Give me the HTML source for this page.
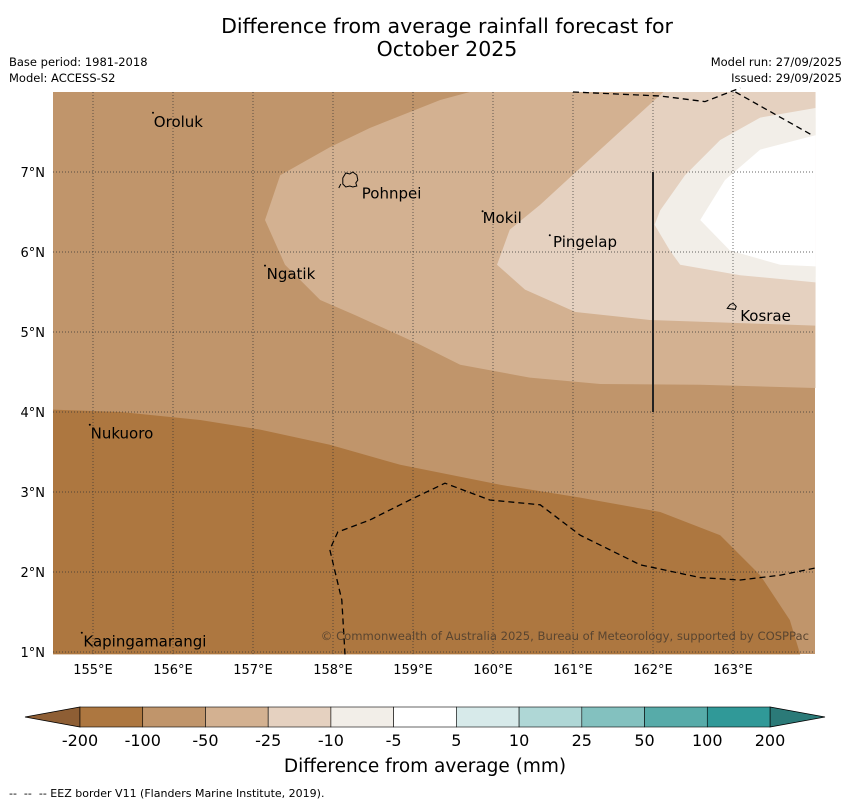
<!DOCTYPE html>
<html><head><meta charset="utf-8"><style>
body{margin:0;background:#fff;width:850px;height:804px;overflow:hidden;font-family:"DejaVu Sans","Liberation Sans",sans-serif}
svg text{font-family:"DejaVu Sans","Liberation Sans",sans-serif}
</style></head><body>
<svg width="850" height="804" xmlns="http://www.w3.org/2000/svg">
<text x="447" y="33" text-anchor="middle" font-size="20.5">Difference from average rainfall forecast for</text>
<text x="447" y="56" text-anchor="middle" font-size="20.5">October 2025</text>
<text x="9" y="66" font-size="11.5">Base period: 1981-2018</text>
<text x="9" y="82" font-size="11.5">Model: ACCESS-S2</text>
<text x="842" y="66" font-size="11.5" text-anchor="end">Model run: 27/09/2025</text>
<text x="842" y="82" font-size="11.5" text-anchor="end">Issued: 29/09/2025</text>
<g id="map"></g>
<g id="cbar"></g>
<text x="425" y="772" text-anchor="middle" font-size="18.5">Difference from average (mm)</text>
<text x="9" y="797" font-size="11" xml:space="preserve">--  --  -- EEZ border V11 (Flanders Marine Institute, 2019).</text>
</svg>
<script>
const NS="http://www.w3.org/2000/svg";
const levels=["-200","-100","-50","-25","-10","-5","5","10","25","50","100","200"];
const colors=["#ad7740","#c0956b","#d3b191","#e5d1c0","#f2eee8","#ffffff","#d7eaea","#afd7d6","#83c1bf","#57aba9","#309998"];
const lonTicks=[155,156,157,158,159,160,161,162,163];
const latTicks=[1,2,3,4,5,6,7];
const regionM200=[[154.5,4.03],[155.34,4.0],[156.34,3.9],[157.09,3.78],[157.96,3.59],[158.84,3.34],[160.09,3.09],[161.09,2.93],[162.09,2.75],[162.84,2.46],[163.34,1.96],[163.71,1.4],[163.84,0.97],[154.5,0.97]];
const regionM50=[[159.71,8.0],[159.34,7.9],[158.46,7.55],[157.96,7.31],[157.34,6.96],[157.15,6.4],[157.4,5.84],[157.84,5.4],[158.28,5.21],[159.09,4.84],[159.59,4.59],[160.46,4.43],[161.34,4.35],[162.59,4.34],[164.03,4.3],[164.03,8.0]];
const regionM25=[[162.13,8.0],[161.34,7.28],[160.59,6.59],[160.21,6.28],[160.05,5.84],[160.4,5.53],[161.03,5.25],[161.96,5.15],[164.03,5.08],[164.03,8.0]];
const regionM10=[[164.03,7.8],[163.34,7.68],[162.84,7.4],[162.4,6.96],[162.09,6.52],[162.02,6.34],[162.21,6.02],[162.34,5.84],[163.09,5.71],[164.03,5.62]];
const regionM5=[[164.03,7.46],[163.34,7.28],[162.9,6.9],[162.59,6.4],[162.96,6.02],[163.59,5.84],[164.03,5.82]];
const eezTop=[[161.0,8.0],[162.09,7.95],[162.65,7.88],[163.09,8.05]];
const eezTop2=[[163.03,8.0],[163.99,7.46]];
const eezBottom=[[158.15,0.97],[158.11,1.65],[157.96,2.28],[158.06,2.5],[158.46,2.65],[158.96,2.9],[159.4,3.11],[159.96,2.9],[160.59,2.84],[161.09,2.46],[161.84,2.09],[162.59,1.93],[163.09,1.9],[163.59,1.96],[164.03,2.05]];
const islands=[["Oroluk",155.75,7.74,155.76,7.56],["Pohnpei",158.21,6.9,158.36,6.67],["Mokil",159.87,6.51,159.87,6.36],["Pingelap",160.71,6.21,160.75,6.06],["Ngatik",157.15,5.83,157.17,5.66],["Kosrae",162.99,5.32,163.09,5.14],["Nukuoro",154.96,3.84,154.97,3.67],["Kapingamarangi",154.86,1.24,154.88,1.07]];
const X=lon=>53+(lon-154.5)*80, Y=lat=>92+(8-lat)*80;
const map=document.getElementById('map');
function mk(t,a,p){const e=document.createElementNS(NS,t);for(const k in a)e.setAttribute(k,a[k]);(p||map).appendChild(e);return e;}
function pts(arr){return arr.map(p=>X(p[0]).toFixed(1)+","+Y(p[1]).toFixed(1)).join(" ");}
let e=mk('rect',{x:53,y:92,width:762,height:562,fill:colors[1]});

[[regionM200,0,'region-minus200'],[regionM50,2,'region-minus50'],[regionM25,3,'region-minus25'],[regionM10,4,'region-minus10'],[regionM5,5,'region-minus5']].forEach(r=>{
 const p=mk('polygon',{points:pts(r[0]),fill:colors[r[1]]});
 
 
});
lonTicks.forEach(l=>{
 const g=mk('line',{x1:X(l),x2:X(l),y1:92,y2:654,stroke:'#333',"stroke-width":0.7,"stroke-dasharray":"1,2"});
 
 const t=mk('text',{x:X(l),y:674,"text-anchor":"middle","font-size":13});t.textContent=l+"°E";
 
});
latTicks.forEach(l=>{
 const g=mk('line',{x1:53,x2:815,y1:Y(l),y2:Y(l),stroke:'#333',"stroke-width":0.7,"stroke-dasharray":"1,2"});
 
 const t=mk('text',{x:45,y:Y(l)+5,"text-anchor":"end","font-size":13});t.textContent=l+"°N";
 
});
[eezTop,eezTop2,eezBottom].forEach(a=>{
 const p=mk('polyline',{points:pts(a),fill:'none',stroke:'#000',"stroke-width":1.3,"stroke-dasharray":"6,4"});
 
});
e=mk('line',{x1:X(162),x2:X(162),y1:Y(7),y2:Y(4),stroke:'#222',"stroke-width":2});

islands.forEach(s=>{
 const cx=X(s[1]),cy=Y(s[2]);
 let d;
 if(s[0]==="Pohnpei"){
  d=mk('path',{d:`M${cx-7},${cy-2} l3,-5 l4,1 l3,-2 l4,3 l1,5 l-2,3 l1,3 l-4,1 l-3,-1 l-4,1 l-3,-3 z M${cx-9},${cy+4} l-2,4`,fill:'none',stroke:'#000',"stroke-width":1});
 } else if(s[0]==="Kosrae"){
  d=mk('path',{d:`M${cx-5},${cy+2} l3,-4 l3,-1 l3,3 l-1,3 z`,fill:'none',stroke:'#000',"stroke-width":1});
 } else {
  d=mk('circle',{cx:cx,cy:cy,r:1,fill:'#000'});
 }
 
 const t=mk('text',{x:X(s[3]),y:Y(s[4]),"font-size":15});t.textContent=s[0];
 
});
e=mk('text',{x:809,y:640,"text-anchor":"end","font-size":11.6,fill:'#5a4530'});e.textContent="© Commonwealth of Australia 2025, Bureau of Meteorology, supported by COSPPac";

const cb=document.getElementById('cbar');
const cx0=80,cw=690/11,cy=707,ch=20;
e=mk('polygon',{points:`25,717 ${cx0},${cy} ${cx0},${cy+ch}`,fill:'#8e5e34',stroke:'#000',"stroke-width":0.8},cb);

e=mk('polygon',{points:`825,717 770,${cy} 770,${cy+ch}`,fill:'#2b7a78',stroke:'#000',"stroke-width":0.8},cb);

colors.forEach((c,i)=>{
 const r=mk('rect',{x:cx0+i*cw,y:cy,width:cw,height:ch,fill:c,stroke:'#000',"stroke-width":0.6},cb);
 
});
levels.forEach((l,i)=>{
 const t=mk('text',{x:cx0+i*cw,y:746,"text-anchor":"middle","font-size":16},cb);t.textContent=l;
 
});
</script>
</body></html>
